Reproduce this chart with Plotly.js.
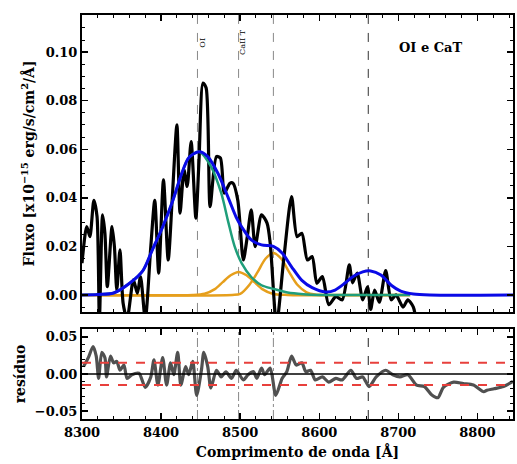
<!DOCTYPE html>
<html>
<head>
<meta charset="utf-8">
<script src="https://cdn.plot.ly/plotly-3.0.1.min.js"></script>
<style>html,body{margin:0;padding:0;background:#fff;}#chart{width:517px;height:464px;}</style>
</head>
<body>
<div id="chart"></div>
<script>
// Observed spectrum (wavelength in Å, flux in 1e-15 erg/s/cm2/Å)
const specWl = [8300,8306,8310,8315,8319,8322,8326,8329,8332,8338,8341,8344,8348,8352,8357,8365,8370,8374,8380,8387,8392,8397,8403,8409,8414,8420,8424,8429,8433,8438,8444,8448,8453,8457,8462,8470,8475,8480,8487,8491,8497,8504,8509,8514,8519,8527,8534,8538,8546,8555,8565,8572,8578,8585,8591,8597,8604,8612,8621,8629,8638,8642,8648,8655,8661,8665,8670,8676,8684,8691,8697,8706,8712,8719,8722];
const specFlux = [0.0131,0.0282,0.024,0.039,0.0323,-0.010,0.033,0.0254,0.0034,0.0282,0.0199,0.002,0.0186,-0.0034,-0.010,0.0062,0.0007,0.0076,-0.010,0.0199,0.039,0.009,0.0474,0.0144,0.039,0.0701,0.0337,0.0515,0.0447,0.0632,0.0316,0.0557,0.0873,0.0852,0.0364,0.057,0.0564,0.0419,0.046,0.046,0.039,0.0144,0.024,0.035,0.0199,0.033,0.0296,0.0213,-0.012,0.0144,0.0405,0.024,0.0254,0.0144,0.0158,0.0048,0.0076,-0.004,-0.0007,-0.002,0.0124,0.005,0.009,-0.002,0.0033,-0.006,0.002,-0.003,0.010,-0.002,0.000,-0.005,-0.002,-0.005,-0.010];

// Total fit
const fitWl = [8300,8320,8340,8361,8377,8389,8402,8415,8425,8435,8448,8459,8472,8485,8495,8502,8514,8527,8542,8553,8565,8578,8591,8608,8620,8633,8642,8655,8665,8678,8691,8703,8719,8740,8845];
const fitFlux = [0,0.0002,0.0008,0.005,0.010,0.0186,0.028,0.039,0.049,0.0565,0.059,0.057,0.050,0.040,0.032,0.028,0.0227,0.0206,0.020,0.0173,0.0116,0.006,0.003,0.0012,0.002,0.005,0.0074,0.0095,0.0099,0.0082,0.004,0.0016,0.0004,0,0];

// OI component
const oiWl = [8300,8320,8340,8361,8377,8389,8402,8415,8425,8435,8448,8463,8476,8485,8493,8502,8514,8527,8542,8560,8580,8600,8715];
const oiFlux = [0,0.0002,0.0008,0.005,0.010,0.0186,0.028,0.039,0.049,0.0565,0.059,0.053,0.042,0.030,0.020,0.013,0.0074,0.004,0.0025,0.001,0.0003,0,0];

// CaT components
const ca1Wl = [8300,8440,8455,8468,8478,8488,8498,8508,8518,8528,8541,8560,8715];
const ca1Flux = [0,0,0.0005,0.0024,0.0053,0.0081,0.0095,0.0081,0.0053,0.0024,0.0005,0,0];
const ca2Wl = [8300,8490,8500,8512,8522,8532,8542,8552,8562,8572,8584,8595,8610,8715];
const ca2Flux = [0,0,0.0004,0.0043,0.0094,0.0149,0.0173,0.0149,0.0094,0.0043,0.0011,0.0002,0,0];

// Residuals
const resWl = [8302,8308,8314,8318,8321,8325,8329,8331,8336,8340,8344,8348,8353,8357,8363,8372,8380,8387,8391,8396,8402,8407,8412,8416,8421,8425,8431,8435,8440,8445,8451,8454,8459,8463,8470,8476,8482,8489,8495,8504,8510,8517,8521,8527,8531,8538,8545,8553,8559,8565,8571,8578,8583,8589,8595,8604,8612,8621,8629,8640,8647,8655,8663,8672,8684,8693,8702,8712,8723,8733,8742,8750,8757,8770,8782,8795,8808,8812,8821,8833,8845];
const resVal = [0.010,0.022,0.037,0.024,-0.006,0.029,0.022,-0.004,0.024,0.015,0.017,0.005,0.012,-0.006,-0.001,0.001,-0.018,-0.004,0.019,-0.015,0.022,-0.015,0.015,-0.001,0.029,-0.015,0.010,-0.001,0.017,-0.029,0.005,0.029,0.010,-0.019,0.005,-0.004,0.003,-0.006,0.005,-0.008,-0.001,0.003,-0.006,0.008,-0.001,0.008,-0.029,-0.006,0.003,0.024,0.012,0.015,0.003,0.005,-0.008,-0.004,-0.011,-0.006,-0.008,0.005,-0.006,-0.004,-0.017,-0.004,0.005,-0.001,-0.004,-0.001,-0.015,-0.017,-0.028,-0.032,-0.018,-0.011,-0.013,-0.015,-0.024,-0.022,-0.020,-0.017,-0.010];

// Line markers and residual bands
const lineWl = [8446, 8498, 8542, 8662];
const lineLabels = ['OI', 'CaII T'];
const resBands = [0.015, -0.015];
const panelLabel = 'OI e CaT';

const FONT = 'DejaVu Serif, serif';
const tickF = {family: FONT, size: 13, color: '#000', weight: 'bold'};

const traces = [
  {x: ca1Wl, y: ca1Flux, mode: 'lines', line: {color: '#e69f1c', width: 2.5, shape: 'spline', smoothing: 0.8}, xaxis: 'x', yaxis: 'y', hoverinfo: 'skip'},
  {x: ca2Wl, y: ca2Flux, mode: 'lines', line: {color: '#e69f1c', width: 2.5, shape: 'spline', smoothing: 0.8}, xaxis: 'x', yaxis: 'y', hoverinfo: 'skip'},
  {x: specWl, y: specFlux, mode: 'lines', line: {color: '#000', width: 3.2, shape: 'spline', smoothing: 0.7}, xaxis: 'x', yaxis: 'y'},
  {x: oiWl, y: oiFlux, mode: 'lines', line: {color: '#1f9e7a', width: 2.5, shape: 'spline', smoothing: 0.8}, xaxis: 'x', yaxis: 'y'},
  {x: fitWl, y: fitFlux, mode: 'lines', line: {color: '#0a0ae6', width: 3, shape: 'spline', smoothing: 0.8}, xaxis: 'x', yaxis: 'y'},
  {x: resWl, y: resVal, mode: 'lines', line: {color: '#505050', width: 3.2, shape: 'spline', smoothing: 0.7}, xaxis: 'x2', yaxis: 'y2'}
];

const shapes = [];
lineWl.forEach((w, i) => {
  const last = i === lineWl.length - 1;
  shapes.push({type: 'line', xref: 'x', yref: 'y domain', x0: w, x1: w, y0: 0, y1: 1, layer: 'below',
    line: {color: last ? '#333' : '#888', width: 1, dash: 'dash'}});
  shapes.push({type: 'line', xref: 'x2', yref: 'y2 domain', x0: w, x1: w, y0: 0, y1: 1, layer: 'below',
    line: {color: last ? '#222' : '#888', width: 1, dash: last ? 'dash' : 'dashdot'}});
});
shapes.push({type: 'line', xref: 'x2 domain', yref: 'y2', x0: 0, x1: 1, y0: 0, y1: 0, layer: 'above', line: {color: '#000', width: 1.5}});
resBands.forEach(b => shapes.push({type: 'line', xref: 'x2 domain', yref: 'y2', x0: 0, x1: 1, y0: b, y1: b, layer: 'above', line: {color: '#e8403c', width: 2, dash: 'dash'}}));

const annotations = [
  {xref: 'x', yref: 'y', x: 8741, y: 0.102, text: panelLabel, showarrow: false, font: {family: FONT, size: 13, color: '#000', weight: 'bold'}},
  {xref: 'x', yref: 'y', x: lineWl[0] + 6, y: 0.104, text: lineLabels[0], textangle: -90, showarrow: false, font: {family: FONT, size: 8, color: '#000'}},
  {xref: 'x', yref: 'y', x: lineWl[1] + 5, y: 0.104, text: lineLabels[1], textangle: -90, showarrow: false, font: {family: FONT, size: 8, color: '#000'}}
];

const xCommon = {
  range: [8300, 8845], dtick: 100, tick0: 8300, ticks: 'inside', ticklen: 6, tickwidth: 1.5, tickcolor: '#000',
  showline: true, linecolor: '#000', linewidth: 2, mirror: 'ticks', showgrid: false, zeroline: false,
  minor: {ticks: 'inside', dtick: 20, ticklen: 3, tickwidth: 1, tickcolor: '#000', showgrid: false},
  tickfont: tickF
};

const layout = {
  width: 517, height: 464,
  margin: {l: 82, r: 4, t: 15, b: 45},
  paper_bgcolor: '#fff', plot_bgcolor: '#fff',
  showlegend: false,
  xaxis: Object.assign({}, xCommon, {anchor: 'y', showticklabels: false, matches: 'x2'}),
  xaxis2: Object.assign({}, xCommon, {anchor: 'y2', showticklabels: true,
    title: {text: 'Comprimento de onda [Å]', font: {family: FONT, size: 14, color: '#000', weight: 'bold'}, standoff: 9}}),
  yaxis: {
    domain: [0.265, 1], range: [-0.007, 0.1153], dtick: 0.02, tick0: 0, tickformat: '.2f',
    ticks: 'inside', ticklen: 6, tickwidth: 1.5, tickcolor: '#000',
    showline: true, linecolor: '#000', linewidth: 2, mirror: 'ticks', showgrid: false, zeroline: false,
    minor: {ticks: 'inside', dtick: 0.005, ticklen: 3, tickwidth: 1, tickcolor: '#000', showgrid: false},
    tickfont: tickF,
    title: {text: 'Fluxo [x10<sup>−15</sup> erg/s/cm<sup>2</sup>/Å]', font: {family: FONT, size: 14, color: '#000', weight: 'bold'}, standoff: 8}
  },
  yaxis2: {
    domain: [0, 0.223], range: [-0.0608, 0.0608], dtick: 0.05, tick0: 0, tickformat: '.2f',
    ticks: 'inside', ticklen: 6, tickwidth: 1.5, tickcolor: '#000',
    showline: true, linecolor: '#000', linewidth: 2, mirror: 'ticks', showgrid: false, zeroline: false,
    minor: {ticks: 'inside', dtick: 0.01, ticklen: 3, tickwidth: 1, tickcolor: '#000', showgrid: false},
    tickfont: tickF,
    title: {text: 'resíduo', font: {family: FONT, size: 14, color: '#000', weight: 'bold'}, standoff: 6}
  },
  shapes: shapes,
  annotations: annotations
};

Plotly.newPlot('chart', traces, layout, {displayModeBar: false, staticPlot: true});
</script>
</body>
</html>
